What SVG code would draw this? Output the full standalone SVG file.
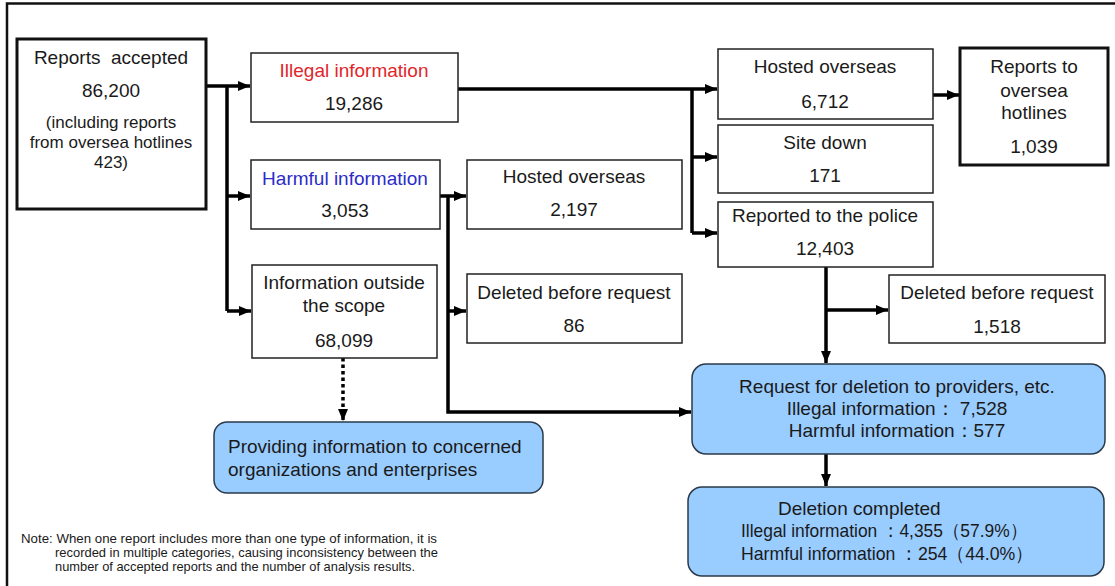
<svg xmlns="http://www.w3.org/2000/svg" width="1115" height="586" viewBox="0 0 1115 586">
<defs>
<style>
text{font-family:"Liberation Sans",Arial,sans-serif;fill:#1a1a1a;font-size:19px;text-anchor:middle}
.sm{font-size:17px}
.box{fill:#fff;stroke:#222;stroke-width:1.5}
.thick{fill:#fff;stroke:#111;stroke-width:3}
.blue{fill:#99ccff;stroke:#2a3a4a;stroke-width:1.5}
.con{fill:none;stroke:#000;stroke-width:3.5}
.dot{fill:none;stroke:#000;stroke-width:3.5;stroke-dasharray:3.5 3}
.note{font-size:13px;text-anchor:start}
</style>
<marker id="ah" markerUnits="userSpaceOnUse" markerWidth="14" markerHeight="12" refX="12" refY="6" orient="auto">
<path d="M0,1 L12,6 L0,11 Z" fill="#000"/>
</marker>
</defs>
<rect width="1115" height="586" fill="#fff"/>
<path d="M7,586 V3.5 H1115" fill="none" stroke="#111" stroke-width="2.5"/>

<g id="connectors">
<path class="con" d="M206,86 H250" marker-end="url(#ah)"/>
<path class="con" d="M227,86 V311"/>
<path class="con" d="M227,196 H250" marker-end="url(#ah)"/>
<path class="con" d="M227,311 H251" marker-end="url(#ah)"/>
<path class="con" d="M458,89 H717" marker-end="url(#ah)"/>
<path class="con" d="M692,89 V233"/>
<path class="con" d="M692,157 H717" marker-end="url(#ah)"/>
<path class="con" d="M692,233 H717" marker-end="url(#ah)"/>
<path class="con" d="M440,196 H466" marker-end="url(#ah)"/>
<path class="con" d="M448,196 V412 H691" marker-end="url(#ah)"/>
<path class="con" d="M448,311 H466" marker-end="url(#ah)"/>
<path class="con" d="M933,95 H959" marker-end="url(#ah)"/>
<path class="con" d="M826,267 V363" marker-end="url(#ah)"/>
<path class="con" d="M826,310 H888" marker-end="url(#ah)"/>
<path class="con" d="M826,454 V486" marker-end="url(#ah)"/>
<path class="dot" d="M343,358 V421" marker-end="url(#ah)"/>
</g>

<g id="reports-accepted">
<rect class="thick" x="17" y="39" width="189" height="170"/>
<text x="111" y="64" xml:space="preserve">Reports  accepted</text>
<text x="111" y="97">86,200</text>
<text class="sm" x="111" y="128">(including reports</text>
<text class="sm" x="111" y="148">from oversea hotlines</text>
<text class="sm" x="111" y="168">423)</text>
</g>

<g id="illegal">
<rect class="box" x="251" y="53" width="207" height="69"/>
<text x="354" y="77" style="fill:#e0262a">Illegal information</text>
<text x="354" y="110">19,286</text>
</g>

<g id="harmful">
<rect class="box" x="251" y="160" width="189" height="69"/>
<text x="345" y="185" style="fill:#2c2cc8">Harmful information</text>
<text x="345" y="217">3,053</text>
</g>

<g id="outside-scope">
<rect class="box" x="252" y="265" width="185" height="93"/>
<text x="344" y="289">Information outside</text>
<text x="344" y="312">the scope</text>
<text x="344" y="347">68,099</text>
</g>

<g id="hosted-overseas-2">
<rect class="box" x="467" y="160" width="215" height="69"/>
<text x="574" y="183">Hosted overseas</text>
<text x="574" y="216">2,197</text>
</g>

<g id="deleted-86">
<rect class="box" x="467" y="274" width="215" height="69"/>
<text x="574" y="299">Deleted before request</text>
<text x="574" y="332">86</text>
</g>

<g id="hosted-overseas-1">
<rect class="box" x="718" y="49" width="215" height="70"/>
<text x="825" y="73">Hosted overseas</text>
<text x="825" y="108">6,712</text>
</g>

<g id="site-down">
<rect class="box" x="718" y="125" width="215" height="68"/>
<text x="825" y="149">Site down</text>
<text x="825" y="182">171</text>
</g>

<g id="police">
<rect class="box" x="718" y="202" width="215" height="65"/>
<text x="825" y="222">Reported to the police</text>
<text x="825" y="255">12,403</text>
</g>

<g id="oversea-hotlines">
<rect class="thick" x="960" y="48" width="148" height="117"/>
<text x="1034" y="73">Reports to</text>
<text x="1034" y="97">oversea</text>
<text x="1034" y="119">hotlines</text>
<text x="1034" y="153">1,039</text>
</g>

<g id="deleted-1518">
<rect class="box" x="889" y="275" width="216" height="68"/>
<text x="997" y="299">Deleted before request</text>
<text x="997" y="333">1,518</text>
</g>

<g id="providing">
<rect class="blue" x="214" y="422" width="329" height="71" rx="13"/>
<text x="228" y="453" style="text-anchor:start">Providing information to concerned</text>
<text x="228" y="476" style="text-anchor:start">organizations and enterprises</text>
</g>

<g id="request">
<rect class="blue" x="692" y="364" width="413" height="90" rx="14"/>
<text x="897" y="393">Request for deletion to providers, etc.</text>
<text x="897" y="415">Illegal information： 7,528</text>
<text x="897" y="437">Harmful information：577</text>
</g>

<g id="deletion-completed">
<rect class="blue" x="688" y="487" width="416" height="89" rx="14"/>
<text x="778" y="515" style="text-anchor:start">Deletion completed</text>
<text x="741" y="537" style="text-anchor:start" textLength="286" lengthAdjust="spacingAndGlyphs">Illegal information ：4,355（57.9%）</text>
<text x="741" y="560" style="text-anchor:start" textLength="292" lengthAdjust="spacingAndGlyphs">Harmful information ：254（44.0%）</text>
</g>

<g id="note">
<text class="note" x="21" y="543" textLength="416" lengthAdjust="spacingAndGlyphs">Note: When one report includes more than one type of information, it is</text>
<text class="note" x="55" y="557" textLength="383" lengthAdjust="spacingAndGlyphs">recorded in multiple categories, causing inconsistency between the</text>
<text class="note" x="55" y="571" textLength="360" lengthAdjust="spacingAndGlyphs">number of accepted reports and the number of analysis results.</text>
</g>
</svg>
